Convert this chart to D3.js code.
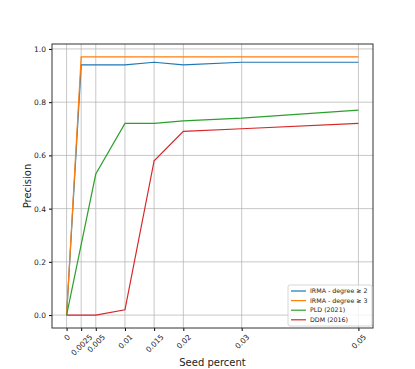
<!DOCTYPE html>
<html>
<head>
<meta charset="utf-8">
<script src="https://cdn.jsdelivr.net/npm/d3@7"></script>
<style>
  body { margin: 0; background: #fff; }
  text { font-family: "DejaVu Sans", sans-serif; fill: #222; }
</style>
</head>
<body>
<div id="chart"></div>
<script>
// tick positions on the x axis
var xTicks = [0, 0.0025, 0.005, 0.01, 0.015, 0.02, 0.03, 0.05];
var yTicks = [0, 0.2, 0.4, 0.6, 0.8, 1.0];

// series (x = seed percent, y = precision)
var irma2X = [0, 0.0025, 0.005, 0.01, 0.015, 0.02, 0.03, 0.05];
var irma2Y = [0, 0.94, 0.94, 0.94, 0.95, 0.94, 0.95, 0.95];
var irma3X = [0, 0.0025, 0.005, 0.01, 0.015, 0.02, 0.03, 0.05];
var irma3Y = [0, 0.97, 0.97, 0.97, 0.97, 0.97, 0.97, 0.97];
var pldX = [0, 0.005, 0.01, 0.015, 0.02, 0.03, 0.05];
var pldY = [0, 0.53, 0.72, 0.72, 0.73, 0.74, 0.77];
var ddmX = [0, 0.005, 0.01, 0.015, 0.02, 0.03, 0.05];
var ddmY = [0, 0, 0.02, 0.58, 0.69, 0.70, 0.72];

var series = [
    {name: "IRMA - degree \u2265 2", color: "#1f77b4", x: irma2X, y: irma2Y},
    {name: "IRMA - degree \u2265 3", color: "#ff7f0e", x: irma3X, y: irma3Y},
    {name: "PLD (2021)", color: "#2ca02c", x: pldX, y: pldY},
    {name: "DDM (2016)", color: "#d62728", x: ddmX, y: ddmY}
];

var width = 415, height = 369;
var margin = {left: 52, right: 42, top: 44, bottom: 41};

var svg = d3.select("#chart").append("svg")
    .attr("width", width)
    .attr("height", height);

var x = d3.scaleLinear()
    .domain([-0.0025, 0.0525])
    .range([margin.left, width - margin.right]);

var y = d3.scaleLinear()
    .domain([-0.0485, 1.0185])
    .range([height - margin.bottom, margin.top]);

// grid
svg.append("g").selectAll("line.vg")
    .data(xTicks)
    .enter().append("line")
    .attr("x1", function (d) { return x(d); })
    .attr("x2", function (d) { return x(d); })
    .attr("y1", margin.top)
    .attr("y2", height - margin.bottom)
    .attr("stroke", "#b0b0b0")
    .attr("stroke-opacity", 0.7)
    .attr("stroke-width", 1);

svg.append("g").selectAll("line.hg")
    .data(yTicks)
    .enter().append("line")
    .attr("y1", function (d) { return y(d); })
    .attr("y2", function (d) { return y(d); })
    .attr("x1", margin.left)
    .attr("x2", width - margin.right)
    .attr("stroke", "#b0b0b0")
    .attr("stroke-opacity", 0.7)
    .attr("stroke-width", 1);

// axes
var xAxis = svg.append("g")
    .attr("transform", "translate(0," + (height - margin.bottom) + ")")
    .call(d3.axisBottom(x).tickValues(xTicks).tickSize(3).tickFormat(function (d) { return String(d); }));
xAxis.select(".domain").remove();
// rotated labels centred under their tick, like matplotlib
xAxis.selectAll("text")
    .style("font-size", "7.5px")
    .attr("text-anchor", "middle")
    .attr("y", 0)
    .attr("dy", "0.35em")
    .each(function () {
        var w = this.getComputedTextLength();
        var h = 7.5;
        var half = (w + h) / (2 * Math.SQRT2);
        d3.select(this).attr("transform", "translate(0," + (5 + half) + ") rotate(-45)");
    });

var yAxis = svg.append("g")
    .attr("transform", "translate(" + margin.left + ",0)")
    .call(d3.axisLeft(y).tickValues(yTicks).tickSize(3).tickFormat(d3.format(".1f")));
yAxis.select(".domain").remove();
yAxis.selectAll("text").style("font-size", "7.5px");

// lines
var line = d3.line()
    .x(function (d) { return x(d[0]); })
    .y(function (d) { return y(d[1]); });

series.forEach(function (s) {
    var pts = s.x.map(function (v, i) { return [v, s.y[i]]; });
    svg.append("path")
        .datum(pts)
        .attr("fill", "none")
        .attr("stroke", s.color)
        .attr("stroke-width", 1.2)
        .attr("d", line);
});

// frame
svg.append("rect")
    .attr("x", margin.left)
    .attr("y", margin.top)
    .attr("width", width - margin.left - margin.right)
    .attr("height", height - margin.top - margin.bottom)
    .attr("fill", "none")
    .attr("stroke", "#333")
    .attr("stroke-width", 1);

// labels
svg.append("text")
    .attr("x", (margin.left + width - margin.right) / 2)
    .attr("y", 366)
    .attr("text-anchor", "middle")
    .style("font-size", "10px")
    .text("Seed percent");

svg.append("text")
    .attr("transform", "translate(31," + ((margin.top + height - margin.bottom) / 2) + ") rotate(-90)")
    .attr("text-anchor", "middle")
    .style("font-size", "10px")
    .text("Precision");

// legend
var lg = svg.append("g").attr("transform", "translate(288,285)");
lg.append("rect")
    .attr("width", 84)
    .attr("height", 41)
    .attr("rx", 2)
    .attr("fill", "#fff")
    .attr("fill-opacity", 0.8)
    .attr("stroke", "#ccc")
    .attr("stroke-width", 0.8);

var item = lg.selectAll("g.item")
    .data(series)
    .enter().append("g")
    .attr("transform", function (d, i) { return "translate(0," + (6 + i * 9.6) + ")"; });
item.append("line")
    .attr("x1", 3).attr("x2", 18)
    .attr("stroke", function (d) { return d.color; })
    .attr("stroke-width", 1.2);
item.append("text")
    .attr("x", 22)
    .attr("dy", "0.35em")
    .style("font-size", "6.3px")
    .text(function (d) { return d.name; });
</script>
</body>
</html>
